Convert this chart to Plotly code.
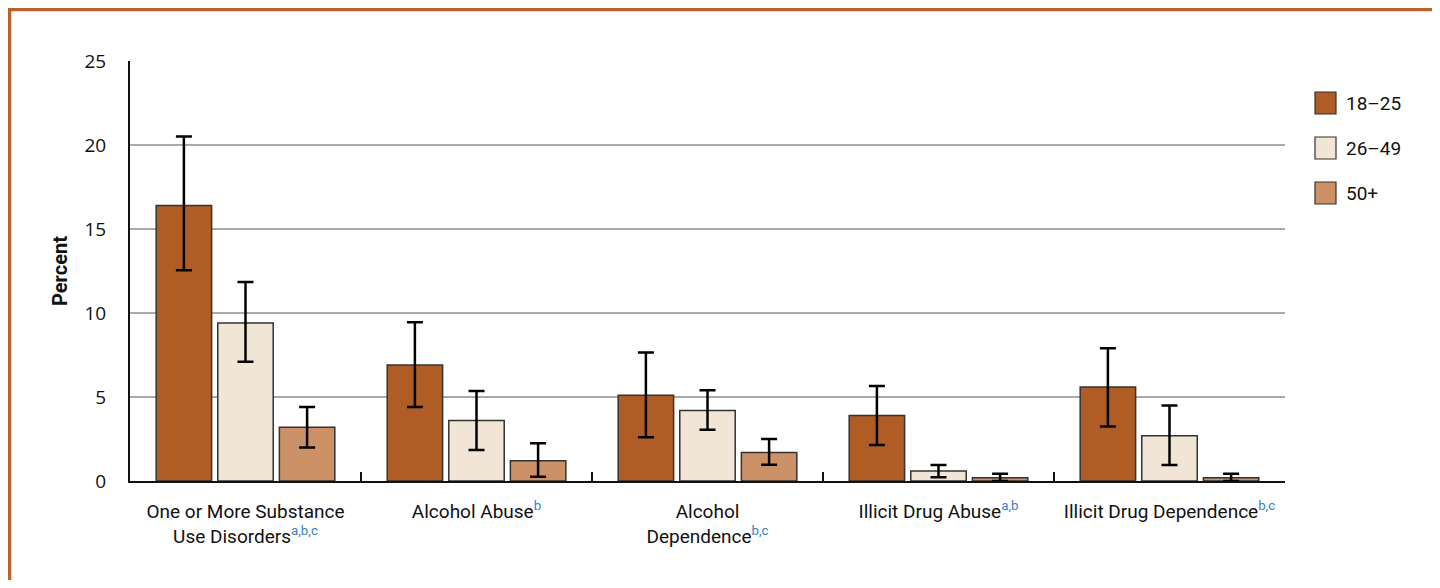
import plotly.graph_objects as go

categories = [
    "One or More Substance<br>Use Disorders<span style='color:#3b7fc4'><sup>a,b,c</sup></span>",
    "Alcohol Abuse<span style='color:#3b7fc4'><sup>b</sup></span>",
    "Alcohol<br>Dependence<span style='color:#3b7fc4'><sup>b,c</sup></span>",
    "Illicit Drug Abuse<span style='color:#3b7fc4'><sup>a,b</sup></span>",
    "Illicit Drug Dependence<span style='color:#3b7fc4'><sup>b,c</sup></span>",
]
series_names = ["18\u201325", "26\u201349", "50+"]
series_colors = ["#b05c25", "#f1e6d6", "#cc9166"]

age_18_25 = [16.4, 6.9, 5.1, 3.9, 5.6]
age_18_25_upper = [20.5, 9.45, 7.65, 5.65, 7.9]
age_18_25_lower = [12.55, 4.4, 2.6, 2.15, 3.25]

age_26_49 = [9.4, 3.6, 4.2, 0.6, 2.7]
age_26_49_upper = [11.85, 5.35, 5.4, 0.95, 4.5]
age_26_49_lower = [7.1, 1.85, 3.05, 0.22, 0.95]

age_50_plus = [3.2, 1.2, 1.7, 0.2, 0.2]
age_50_plus_upper = [4.4, 2.25, 2.5, 0.43, 0.43]
age_50_plus_lower = [2.0, 0.25, 0.97, 0.0, 0.0]

y_ticks = [0, 5, 10, 15, 20, 25]

values = [age_18_25, age_26_49, age_50_plus]
uppers = [age_18_25_upper, age_26_49_upper, age_50_plus_upper]
lowers = [age_18_25_lower, age_26_49_lower, age_50_plus_lower]

NARROW = "Roboto, Liberation Sans, sans-serif"

fig = go.Figure()
for name, color, vals, up, lo in zip(series_names, series_colors, values, uppers, lowers):
    fig.add_trace(go.Bar(
        x=categories, y=vals, name=name,
        marker=dict(color=color, line=dict(color="#333333", width=1.5)),
        error_y=dict(
            type="data", symmetric=False,
            array=[u - v for u, v in zip(up, vals)],
            arrayminus=[v - l for v, l in zip(vals, lo)],
            color="#000000", thickness=2.5, width=8,
        ),
        showlegend=False,
    ))

# page body has an 8px margin; work in figure pixel coordinates = screen - 8
OFF = 8
W, H = 1440 - 2 * OFF, 588 - 2 * OFF
ml, mt = 130 - OFF, 61 - OFF
pw, ph = 1155, 420
mr = W - ml - pw
mb = H - mt - ph

def px_x(x):
    return (x - OFF - ml) / pw

def px_y(y):
    return (mt + ph - (y - OFF)) / ph

shapes = []
annotations = []
legend_centers = [103, 148, 193]
for name, color, cy in zip(series_names, series_colors, legend_centers):
    shapes.append(dict(type="rect", xref="paper", yref="paper",
                       x0=px_x(1315), x1=px_x(1336), y0=px_y(cy + 11), y1=px_y(cy - 11),
                       fillcolor=color, line=dict(color="#333333", width=1.2)))
    annotations.append(dict(xref="paper", yref="paper", x=px_x(1344), y=px_y(cy),
                            text=name, showarrow=False, xanchor="left", yanchor="middle",
                            font=dict(family=NARROW, size=19, color="#111111")))

# frame
frame_color = "#b8622b"
shapes.append(dict(type="line", xref="paper", yref="paper",
                   x0=px_x(8), x1=px_x(1440), y0=px_y(9.5), y1=px_y(9.5),
                   line=dict(color=frame_color, width=3.5)))
shapes.append(dict(type="line", xref="paper", yref="paper",
                   x0=px_x(9.5), x1=px_x(9.5), y0=px_y(8), y1=px_y(588),
                   line=dict(color=frame_color, width=3.5)))

fig.update_layout(
    width=W, height=H,
    margin=dict(l=ml, r=mr, t=mt, b=mb, pad=0),
    paper_bgcolor="white", plot_bgcolor="white",
    barmode="group", bargap=0.2, bargroupgap=0.1,
    shapes=shapes, annotations=annotations,
    font=dict(family=NARROW, color="#111111"),
)
fig.update_yaxes(
    range=[0, 25], tickvals=y_ticks, ticktext=[str(t) for t in y_ticks],
    showgrid=True, gridcolor="#aaaaaa", gridwidth=2,
    showline=True, linecolor="#111111", linewidth=2,
    ticks="", ticklabelstandoff=18, automargin=False,
    tickfont=dict(family="Open Sans, Lato, sans-serif", size=19, color="#111111"),
    title=dict(text="<b>Percent</b>", standoff=11,
               font=dict(family=NARROW, size=20, color="#111111")),
    zeroline=False,
)
fig.update_xaxes(
    showline=True, linecolor="#111111", linewidth=2,
    ticks="inside", tickson="boundaries", ticklen=9, tickwidth=2, tickcolor="#111111",
    tickfont=dict(family=NARROW, size=19, color="#111111"),
    ticklabelstandoff=12, tickangle=0, automargin=False,
)

fig.write_html("out.html")
